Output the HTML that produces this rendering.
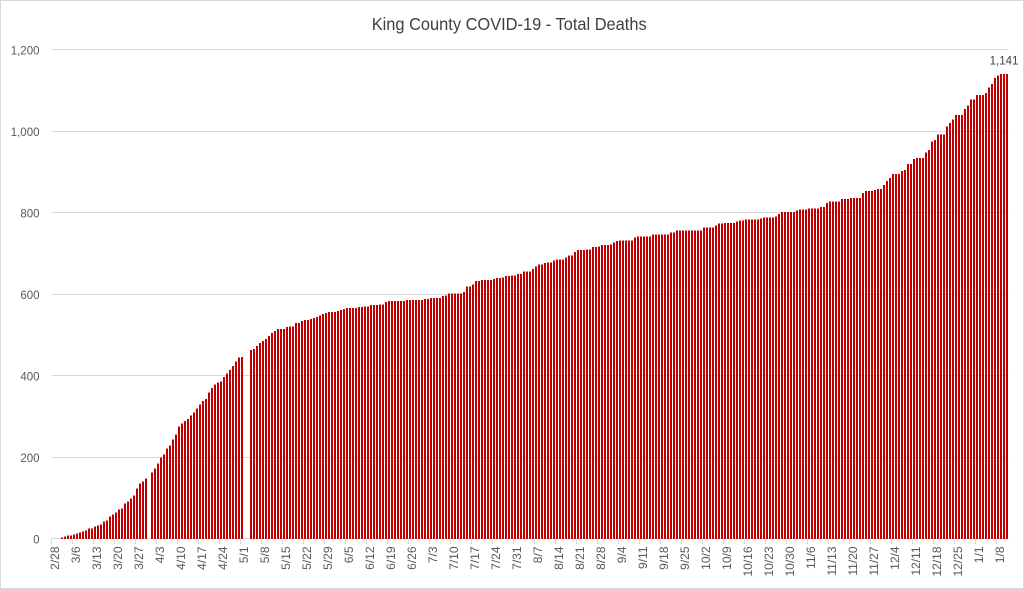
<!DOCTYPE html>
<html>
<head>
<meta charset="utf-8">
<style>
  html, body { margin: 0; padding: 0; background: #fff; }
  svg { display: block; font-family: "Liberation Sans", Arial, sans-serif; }
</style>
</head>
<body>
<svg width="1024" height="589" viewBox="0 0 1024 589" xmlns="http://www.w3.org/2000/svg">
  <rect x="0.5" y="0.5" width="1023" height="588" fill="#ffffff" stroke="#d9d9d9" stroke-width="1"/>

  <!-- Title -->
  <text x="509.2" y="30" font-size="17.5" text-anchor="middle" textLength="275" lengthAdjust="spacingAndGlyphs" fill="#404040">King County COVID-19 - Total Deaths</text>

  <!-- Gridlines -->
  <path d="M51.7 49.5H1008.7M51.7 131.5H1008.7M51.7 212.5H1008.7M51.7 294.5H1008.7M51.7 375.5H1008.7M51.7 457.5H1008.7M51.7 538.5H1008.7" stroke="#d9d9d9" stroke-width="1" fill="none"/>

  <!-- Y axis labels -->
  <g font-size="11.5" fill="#595959" text-anchor="end">
    <text x="39.5" y="54.3">1,200</text>
    <text x="39.5" y="135.8">1,000</text>
    <text x="39.5" y="217.3">800</text>
    <text x="39.5" y="298.8">600</text>
    <text x="39.5" y="380.3">400</text>
    <text x="39.5" y="461.8">200</text>
    <text x="39.5" y="543.3">0</text>
  </g>

  <!-- Bars -->
  <g transform="translate(0,539) scale(1,-0.4075)">
    <path fill="#C00000" shape-rendering="crispEdges" d="M52 0h2v0h-2zm3 0h2v0h-2zm3 0h2v0h-2zm3 0h2v4h-2zm3 0h2v6h-2zm3 0h2v9h-2zm3 0h2v9h-2zm3 0h2v11h-2zm3 0h2v14h-2zm3 0h2v16h-2zm3 0h2v19h-2zm3 0h2v21h-2zm3 0h2v26h-2zm3 0h2v26h-2zm3 0h2v31h-2zm3 0h2v33h-2zm3 0h2v36h-2zm3 0h2v43h-2zm3 0h2v46h-2zm3 0h2v55h-2zm3 0h2v60h-2zm3 0h2v65h-2zm3 0h2v73h-2zm3 0h2v75h-2zm3 0h2v87h-2zm3 0h2v92h-2zm3 0h2v100h-2zm3 0h2v107h-2zm3 0h2v124h-2zm3 0h2v136h-2zm3 0h2v141h-2zm3 0h2v149h-2zm3 0h2v0h-2zm3 0h2v163h-2zm3 0h2v173h-2zm3 0h2v185h-2zm3 0h2v200h-2zm3 0h2v207h-2zm3 0h2v222h-2zm3 0h2v229h-2zm3 0h2v244h-2zm3 0h2v256h-2zm3 0h2v276h-2zm3 0h2v283h-2zm3 0h2v290h-2zm3 0h2v295h-2zm3 0h2v303h-2zm3 0h2v310h-2zm3 0h2v320h-2zm3 0h2v330h-2zm3 0h2v339h-2zm3 0h2v344h-2zm3 0h2v359h-2zm3 0h2v371h-2zm3 0h2v379h-2zm3 0h2v384h-2zm3 0h2v386h-2zm3 0h2v398h-2zm3 0h2v406h-2zm3 0h2v415h-2zm3 0h2v425h-2zm3 0h2v435h-2zm3 0h2v445h-2zm3 0h2v447h-2zm3 0h2v0h-2zm3 0h2v0h-2zm3 0h2v464h-2zm3 0h2v466h-2zm3 0h2v474h-2zm3 0h2v481h-2zm3 0h2v486h-2zm3 0h2v491h-2zm3 0h2v498h-2zm3 0h2v505h-2zm3 0h2v510h-2zm3 0h2v515h-2zm3 0h2v515h-2zm3 0h2v515h-2zm3 0h2v520h-2zm3 0h2v522h-2zm3 0h2v522h-2zm3 0h2v530h-2zm3 0h2v530h-2zm3 0h2v535h-2zm3 0h2v537h-2zm3 0h2v537h-2zm3 0h2v540h-2zm3 0h2v542h-2zm3 0h2v545h-2zm3 0h2v549h-2zm3 0h2v552h-2zm3 0h2v554h-2zm3 0h2v557h-2zm3 0h2v557h-2zm3 0h2v557h-2zm3 0h2v559h-2zm3 0h2v562h-2zm3 0h2v564h-2zm3 0h2v567h-2zm3 0h2v567h-2zm3 0h2v567h-2zm3 0h2v567h-2zm3 0h2v569h-2zm3 0h2v569h-2zm3 0h2v571h-2zm3 0h2v571h-2zm3 0h2v574h-2zm3 0h2v574h-2zm3 0h2v574h-2zm3 0h2v576h-2zm3 0h2v576h-2zm3 0h2v581h-2zm3 0h2v584h-2zm3 0h2v584h-2zm3 0h2v584h-2zm3 0h2v584h-2zm3 0h2v584h-2zm3 0h2v584h-2zm3 0h2v586h-2zm3 0h2v586h-2zm3 0h2v586h-2zm3 0h2v586h-2zm3 0h2v586h-2zm3 0h2v586h-2zm3 0h2v589h-2zm3 0h2v589h-2zm3 0h2v591h-2zm3 0h2v591h-2zm3 0h2v591h-2zm3 0h2v591h-2zm3 0h2v596h-2zm3 0h2v598h-2zm3 0h2v603h-2zm3 0h2v603h-2zm3 0h2v603h-2zm3 0h2v603h-2zm3 0h2v603h-2zm3 0h2v606h-2zm3 0h2v620h-2zm3 0h2v620h-2zm3 0h2v625h-2zm3 0h2v633h-2zm3 0h2v633h-2zm3 0h2v635h-2zm3 0h2v635h-2zm3 0h2v635h-2zm3 0h2v635h-2zm3 0h2v638h-2zm3 0h2v640h-2zm3 0h2v640h-2zm3 0h2v642h-2zm3 0h2v645h-2zm3 0h2v645h-2zm3 0h2v647h-2zm3 0h2v647h-2zm3 0h2v650h-2zm3 0h2v650h-2zm3 0h2v657h-2zm3 0h2v657h-2zm3 0h2v657h-2zm3 0h2v662h-2zm3 0h2v669h-2zm3 0h2v674h-2zm3 0h2v674h-2zm3 0h2v677h-2zm3 0h2v679h-2zm3 0h2v679h-2zm3 0h2v684h-2zm3 0h2v686h-2zm3 0h2v686h-2zm3 0h2v686h-2zm3 0h2v691h-2zm3 0h2v696h-2zm3 0h2v696h-2zm3 0h2v704h-2zm3 0h2v709h-2zm3 0h2v709h-2zm3 0h2v709h-2zm3 0h2v711h-2zm3 0h2v711h-2zm3 0h2v716h-2zm3 0h2v716h-2zm3 0h2v718h-2zm3 0h2v721h-2zm3 0h2v721h-2zm3 0h2v721h-2zm3 0h2v723h-2zm3 0h2v728h-2zm3 0h2v731h-2zm3 0h2v733h-2zm3 0h2v733h-2zm3 0h2v733h-2zm3 0h2v733h-2zm3 0h2v733h-2zm3 0h2v740h-2zm3 0h2v742h-2zm3 0h2v742h-2zm3 0h2v742h-2zm3 0h2v742h-2zm3 0h2v742h-2zm3 0h2v747h-2zm3 0h2v747h-2zm3 0h2v747h-2zm3 0h2v747h-2zm3 0h2v747h-2zm3 0h2v747h-2zm3 0h2v752h-2zm3 0h2v752h-2zm3 0h2v757h-2zm3 0h2v757h-2zm3 0h2v757h-2zm3 0h2v757h-2zm3 0h2v757h-2zm3 0h2v757h-2zm3 0h2v757h-2zm3 0h2v757h-2zm3 0h2v757h-2zm3 0h2v764h-2zm3 0h2v764h-2zm3 0h2v764h-2zm3 0h2v764h-2zm3 0h2v769h-2zm3 0h2v774h-2zm3 0h2v774h-2zm3 0h2v776h-2zm3 0h2v776h-2zm3 0h2v776h-2zm3 0h2v776h-2zm3 0h2v779h-2zm3 0h2v781h-2zm3 0h2v781h-2zm3 0h2v784h-2zm3 0h2v784h-2zm3 0h2v784h-2zm3 0h2v784h-2zm3 0h2v784h-2zm3 0h2v786h-2zm3 0h2v789h-2zm3 0h2v789h-2zm3 0h2v789h-2zm3 0h2v789h-2zm3 0h2v791h-2zm3 0h2v798h-2zm3 0h2v803h-2zm3 0h2v803h-2zm3 0h2v803h-2zm3 0h2v803h-2zm3 0h2v803h-2zm3 0h2v806h-2zm3 0h2v808h-2zm3 0h2v808h-2zm3 0h2v808h-2zm3 0h2v811h-2zm3 0h2v811h-2zm3 0h2v811h-2zm3 0h2v811h-2zm3 0h2v815h-2zm3 0h2v815h-2zm3 0h2v825h-2zm3 0h2v828h-2zm3 0h2v828h-2zm3 0h2v828h-2zm3 0h2v828h-2zm3 0h2v834h-2zm3 0h2v834h-2zm3 0h2v834h-2zm3 0h2v837h-2zm3 0h2v837h-2zm3 0h2v837h-2zm3 0h2v837h-2zm3 0h2v849h-2zm3 0h2v854h-2zm3 0h2v854h-2zm3 0h2v854h-2zm3 0h2v856h-2zm3 0h2v859h-2zm3 0h2v859h-2zm3 0h2v869h-2zm3 0h2v878h-2zm3 0h2v886h-2zm3 0h2v896h-2zm3 0h2v896h-2zm3 0h2v896h-2zm3 0h2v903h-2zm3 0h2v905h-2zm3 0h2v920h-2zm3 0h2v920h-2zm3 0h2v932h-2zm3 0h2v935h-2zm3 0h2v935h-2zm3 0h2v935h-2zm3 0h2v949h-2zm3 0h2v954h-2zm3 0h2v976h-2zm3 0h2v979h-2zm3 0h2v993h-2zm3 0h2v993h-2zm3 0h2v993h-2zm3 0h2v1012h-2zm3 0h2v1021h-2zm3 0h2v1030h-2zm3 0h2v1040h-2zm3 0h2v1040h-2zm3 0h2v1040h-2zm3 0h2v1055h-2zm3 0h2v1064h-2zm3 0h2v1079h-2zm3 0h2v1079h-2zm3 0h2v1089h-2zm3 0h2v1089h-2zm3 0h2v1089h-2zm3 0h2v1094h-2zm3 0h2v1108h-2zm3 0h2v1116h-2zm3 0h2v1131h-2zm3 0h2v1138h-2zm3 0h2v1141h-2zm3 0h2v1141h-2zm3 0h2v1141h-2z"/>
  </g>

  <!-- X axis tick marks -->
  <path d="M51.5 539v5m21 -5v5m21 -5v5m21 -5v5m21 -5v5m21 -5v5m21 -5v5m21 -5v5m21 -5v5m21 -5v5m21 -5v5m21 -5v5m21 -5v5m21 -5v5m21 -5v5m21 -5v5m21 -5v5m21 -5v5m21 -5v5m21 -5v5m21 -5v5m21 -5v5m21 -5v5m21 -5v5m21 -5v5m21 -5v5m21 -5v5m21 -5v5m21 -5v5m21 -5v5m21 -5v5m21 -5v5m21 -5v5m21 -5v5m21 -5v5m21 -5v5m21 -5v5m21 -5v5m21 -5v5m21 -5v5m21 -5v5m21 -5v5m21 -5v5m21 -5v5m21 -5v5m21 -5v5" stroke="#d9d9d9" stroke-width="1" fill="none"/>

  <!-- Data label -->
  <text x="1004" y="64.5" font-size="11.5" fill="#404040" text-anchor="middle">1,141</text>

  <!-- X axis labels -->
  <g font-size="12" fill="#595959" text-anchor="end">
    <text transform="translate(59,546.5) rotate(-90)">2/28</text>
    <text transform="translate(80,546.5) rotate(-90)">3/6</text>
    <text transform="translate(101,546.5) rotate(-90)">3/13</text>
    <text transform="translate(122,546.5) rotate(-90)">3/20</text>
    <text transform="translate(143,546.5) rotate(-90)">3/27</text>
    <text transform="translate(164,546.5) rotate(-90)">4/3</text>
    <text transform="translate(185,546.5) rotate(-90)">4/10</text>
    <text transform="translate(206,546.5) rotate(-90)">4/17</text>
    <text transform="translate(227,546.5) rotate(-90)">4/24</text>
    <text transform="translate(248,546.5) rotate(-90)">5/1</text>
    <text transform="translate(269,546.5) rotate(-90)">5/8</text>
    <text transform="translate(290,546.5) rotate(-90)">5/15</text>
    <text transform="translate(311,546.5) rotate(-90)">5/22</text>
    <text transform="translate(332,546.5) rotate(-90)">5/29</text>
    <text transform="translate(353,546.5) rotate(-90)">6/5</text>
    <text transform="translate(374,546.5) rotate(-90)">6/12</text>
    <text transform="translate(395,546.5) rotate(-90)">6/19</text>
    <text transform="translate(416,546.5) rotate(-90)">6/26</text>
    <text transform="translate(437,546.5) rotate(-90)">7/3</text>
    <text transform="translate(458,546.5) rotate(-90)">7/10</text>
    <text transform="translate(479,546.5) rotate(-90)">7/17</text>
    <text transform="translate(500,546.5) rotate(-90)">7/24</text>
    <text transform="translate(521,546.5) rotate(-90)">7/31</text>
    <text transform="translate(542,546.5) rotate(-90)">8/7</text>
    <text transform="translate(563,546.5) rotate(-90)">8/14</text>
    <text transform="translate(584,546.5) rotate(-90)">8/21</text>
    <text transform="translate(605,546.5) rotate(-90)">8/28</text>
    <text transform="translate(626,546.5) rotate(-90)">9/4</text>
    <text transform="translate(647,546.5) rotate(-90)">9/11</text>
    <text transform="translate(668,546.5) rotate(-90)">9/18</text>
    <text transform="translate(689,546.5) rotate(-90)">9/25</text>
    <text transform="translate(710,546.5) rotate(-90)">10/2</text>
    <text transform="translate(731,546.5) rotate(-90)">10/9</text>
    <text transform="translate(752,546.5) rotate(-90)">10/16</text>
    <text transform="translate(773,546.5) rotate(-90)">10/23</text>
    <text transform="translate(794,546.5) rotate(-90)">10/30</text>
    <text transform="translate(815,546.5) rotate(-90)">11/6</text>
    <text transform="translate(836,546.5) rotate(-90)">11/13</text>
    <text transform="translate(857,546.5) rotate(-90)">11/20</text>
    <text transform="translate(878,546.5) rotate(-90)">11/27</text>
    <text transform="translate(899,546.5) rotate(-90)">12/4</text>
    <text transform="translate(920,546.5) rotate(-90)">12/11</text>
    <text transform="translate(941,546.5) rotate(-90)">12/18</text>
    <text transform="translate(962,546.5) rotate(-90)">12/25</text>
    <text transform="translate(983,546.5) rotate(-90)">1/1</text>
    <text transform="translate(1004,546.5) rotate(-90)">1/8</text>
  </g>
</svg>
</body>
</html>
